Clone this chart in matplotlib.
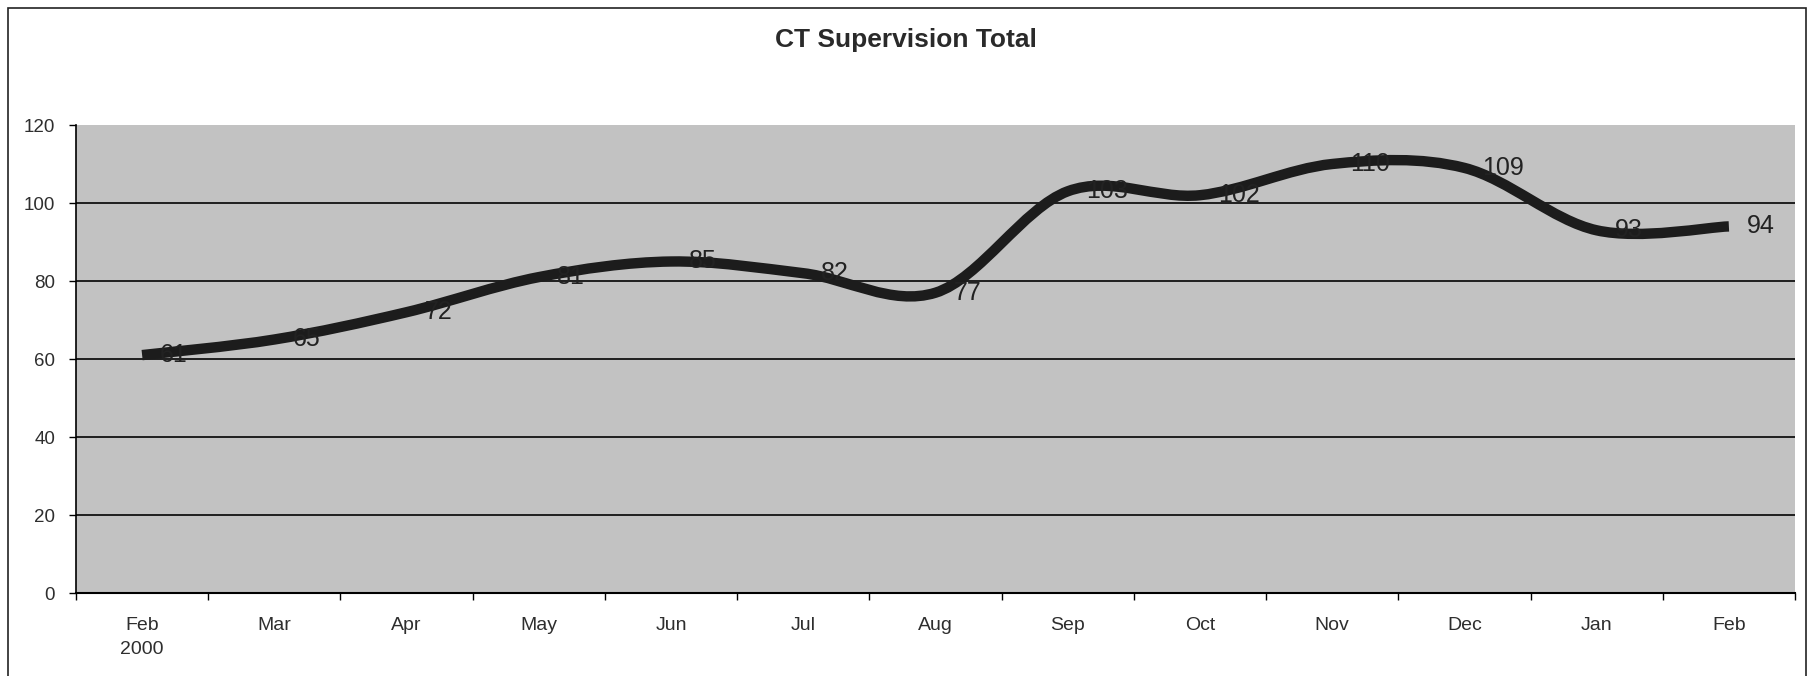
"""
Recreate the 'CT Supervision Total' smoothed line chart.
"""

import numpy as np
import matplotlib
matplotlib.use('Agg')
import matplotlib.pyplot as plt
from matplotlib.path import Path
from matplotlib.patches import PathPatch, Rectangle

# Chart data
months = ['Feb\n2000', 'Mar', 'Apr', 'May', 'Jun', 'Jul', 'Aug',
          'Sep', 'Oct', 'Nov', 'Dec', 'Jan', 'Feb']
totals = [61, 65, 72, 81, 85, 82, 77, 103, 102, 110, 109, 93, 94]
y_ticks = [0, 20, 40, 60, 80, 100, 120]
title = 'CT Supervision Total'

plt.rcParams['font.family'] = ['Liberation Sans', 'DejaVu Sans']


def smooth_path(x, y):
    """Excel-style smoothed line: cubic Bezier segments through the points."""
    pts = np.column_stack([x, y]).astype(float)
    n = len(pts)
    verts = [pts[0]]
    codes = [Path.MOVETO]
    for i in range(n - 1):
        p_prev = pts[i - 1] if i > 0 else pts[i]
        p_next2 = pts[i + 2] if i + 2 < n else pts[i + 1]
        c1 = pts[i] + (pts[i + 1] - p_prev) / 6.0
        c2 = pts[i + 1] - (p_next2 - pts[i]) / 6.0
        verts += [c1, c2, pts[i + 1]]
        codes += [Path.CURVE4] * 3
    return Path(verts, codes)


fig = plt.figure(figsize=(18.1, 6.76), dpi=100)
ax = fig.add_axes([76 / 1810, 1 - 593 / 676, (1795 - 76) / 1810, (593 - 125) / 676])

# plot area
ax.set_facecolor('#c2c2c2')
x = np.arange(len(months))
ax.set_xlim(-0.5, len(months) - 0.5)
ax.set_ylim(0, 120)

# grid lines
for v in y_ticks[1:-1]:
    ax.axhline(v, color='#111111', linewidth=1.3, zorder=1)

# smoothed series line
line = PathPatch(smooth_path(x, totals), facecolor='none', edgecolor='#1c1c1c',
                 linewidth=7.5, capstyle='butt', joinstyle='round', zorder=3)
ax.add_patch(line)

# data labels, to the right of each point
for xi, v in zip(x, totals):
    ax.annotate(str(v), (xi, v), xytext=(13, 0), textcoords='offset points',
                ha='left', va='center', fontsize=18, color='#222222', zorder=4)

# axes styling
for side in ['top', 'right']:
    ax.spines[side].set_visible(False)
ax.spines['left'].set_linewidth(1.2)
ax.spines['bottom'].set_linewidth(1.5)

ax.set_yticks(y_ticks)
ax.tick_params(axis='y', length=5, width=1, pad=10, labelsize=13.5, labelcolor='#2e2e2e')

ax.set_xticks(x)
ax.set_xticklabels(months, linespacing=1.6)
ax.set_xticks(np.arange(-0.5, len(months)), minor=True)
ax.tick_params(axis='x', which='major', length=0, pad=17, labelsize=14, labelcolor='#2e2e2e')
ax.tick_params(axis='x', which='minor', length=5, width=1)

# title
fig.text(906 / 1810, 1 - 40 / 676, title, ha='center', va='center',
         fontsize=19, fontweight='bold', color='#2a2a2a')

# outer chart border
fig.patches.append(Rectangle((8 / 1810, -0.02), (1806 - 8) / 1810, 1 - 8 / 676 + 0.02,
                             transform=fig.transFigure, fill=False,
                             edgecolor='#222222', linewidth=1.2))

fig.savefig('out.png', dpi=100)
